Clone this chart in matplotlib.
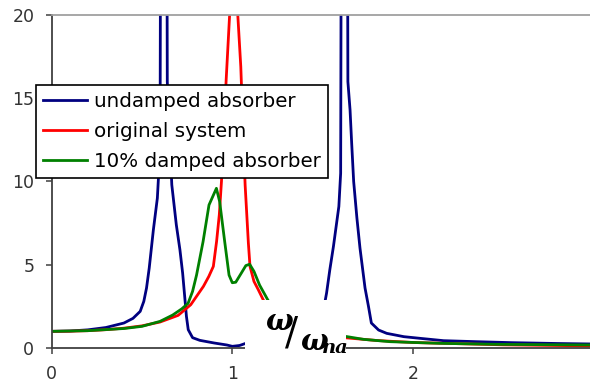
import matplotlib
matplotlib.use('Agg')
import matplotlib.pyplot as plt
from matplotlib.patches import Rectangle
import numpy as np

nan = float('nan')

# ---- data ----
blue_x = [0, 0.1, 0.2, 0.3, 0.4, 0.45, 0.49, 0.51, 0.525, 0.54, 0.563, 0.585, 0.60, 0.62,
          0.64, 0.665, 0.69, 0.71, 0.725, 0.738, 0.746, 0.756, 0.78, 0.82, 0.9, 0.97, 1.0,
          1.04, 1.08, 1.15, 1.3, 1.45, 1.50, 1.522, 1.54, 1.56, 1.59, 1.60, 1.62, 1.64,
          1.652, 1.661, 1.672, 1.69, 1.707, 1.735, 1.754, 1.77, 1.81, 1.855, 1.95, 2.04,
          2.17, 2.35, 2.55, 2.8, 3.0]
blue_y = [1.0, 1.02, 1.09, 1.23, 1.50, 1.78, 2.2, 2.8, 3.6, 4.8, 7.1, 9.0, 12.0, 110,
          16.0, 9.8, 7.4, 5.9, 4.5, 2.9, 1.9, 1.1, 0.62, 0.46, 0.3, 0.18, 0.1,
          0.15, 0.3, 0.45, 0.6, 1.3, 2.0, 3.3, 4.7, 6.1, 8.5, 10.5, 110, 16.0,
          14.3, 12.3, 10.0, 7.8, 6.0, 3.6, 2.5, 1.5, 1.08, 0.88, 0.68, 0.58,
          0.44, 0.38, 0.32, 0.27, 0.24]

red_x = [0, 0.1, 0.2, 0.3, 0.4, 0.5, 0.6, 0.7, 0.77, 0.84, 0.87, 0.895, 0.913, 0.928, 0.94,
         0.966, 0.99, 1.0, 1.025, 1.047, 1.06, 1.071, 1.089, 1.098, 1.12, 1.144, 1.172, 1.2,
         1.3, 1.4, 1.6, 1.8, 2.0, 2.5, 3.0]
red_y = [1.0, 1.01, 1.04, 1.10, 1.19, 1.33, 1.56, 1.96, 2.6, 3.7, 4.3, 4.9, 6.4, 8.0, 10.0,
         16.1, 21.0, nan, 21.0, 16.9, 13.0, 9.8, 6.3, 4.9, 4.0, 3.5, 2.88, 2.4,
         1.5, 1.05, 0.64, 0.45, 0.33, 0.19, 0.125]

green_x = [0, 0.2, 0.4, 0.5, 0.6, 0.67, 0.72, 0.755, 0.78, 0.802, 0.838, 0.871, 0.912, 0.930,
           0.958, 0.982, 1.0, 1.019, 1.05, 1.075, 1.096, 1.12, 1.151, 1.197, 1.25, 1.4,
           1.637, 1.726, 1.873, 2.15, 2.46, 3.0]
green_y = [1.0, 1.04, 1.17, 1.3, 1.6, 1.98, 2.35, 2.68, 3.4, 4.38, 6.38, 8.59, 9.59, 8.79,
           6.38, 4.38, 3.92, 3.95, 4.5, 4.95, 5.03, 4.6, 3.78, 2.88, 2.1, 1.0,
           0.68, 0.52, 0.38, 0.28, 0.22, 0.18]

labels = ['undamped absorber', 'original system', '10% damped absorber']
colors = ['#000080', '#ff0000', '#008000']
x_ticks = [0, 1, 2]
y_ticks = [0, 5, 10, 15, 20]

W, H = 590, 383
fig = plt.figure(figsize=(W / 100, H / 100), dpi=100)
x0_px, unit_px = 51.7, 180.6
ax = fig.add_axes([x0_px / W, 35 / H, (W - x0_px) / W, 333 / H])

ax.plot(blue_x, blue_y, color=colors[0], lw=2.0, label=labels[0])
ax.plot(red_x, red_y, color=colors[1], lw=2.0, label=labels[1])
ax.plot(green_x, green_y, color=colors[2], lw=2.0, label=labels[2])

ax.set_xlim(0, (W - x0_px) / unit_px)
ax.set_ylim(0, 20)
ax.set_xticks(x_ticks)
ax.set_xticklabels([str(t) for t in x_ticks])
ax.set_yticks(y_ticks)
ax.set_yticklabels([str(t) for t in y_ticks])

for s in ['left', 'bottom']:
    ax.spines[s].set_color('#404040')
    ax.spines[s].set_linewidth(1.3)
ax.spines['top'].set_color('#a0a0a0')
ax.spines['top'].set_linewidth(1.3)
ax.spines['right'].set_visible(False)

ax.tick_params(direction='out', length=4.5, width=1.1, color='#404040',
               labelsize=12.5, labelcolor='#333333')
ax.tick_params(axis='x', pad=7.5)
ax.tick_params(axis='y', pad=8.0)

leg = ax.legend(loc='upper left', bbox_to_anchor=(36 / W, 1 - 85 / H),
                bbox_transform=fig.transFigure, borderaxespad=0, frameon=True,
                fancybox=False, edgecolor='black', framealpha=1, fontsize=14.3,
                handlelength=2.2, handletextpad=0.36, labelspacing=0.55,
                borderpad=0.35)
leg.get_frame().set_linewidth(1.2)
leg.set_zorder(10)

# white label box with the axis quantity
rect = Rectangle((245 / W, 0), 101 / W, 83 / H, transform=fig.transFigure,
                 facecolor='white', edgecolor='none', zorder=20)
fig.add_artist(rect)
fig.text(265 / W, 1 - 330 / H, 'ω', fontsize=21, family='DejaVu Serif',
         weight='bold', style='italic', ha='left', va='baseline', zorder=21)
fig.text(285 / W, 1 - 345 / H, '/', fontsize=28, family='DejaVu Serif',
         ha='left', va='baseline', zorder=21)
fig.text(300 / W, 1 - 350 / H, 'ω', fontsize=21, family='DejaVu Serif',
         weight='bold', style='italic', ha='left', va='baseline', zorder=21)
fig.text(322 / W, 1 - 353 / H, 'na', fontsize=14, family='DejaVu Serif',
         weight='bold', style='italic', ha='left', va='baseline', zorder=21)

fig.savefig('out.png', dpi=100)
